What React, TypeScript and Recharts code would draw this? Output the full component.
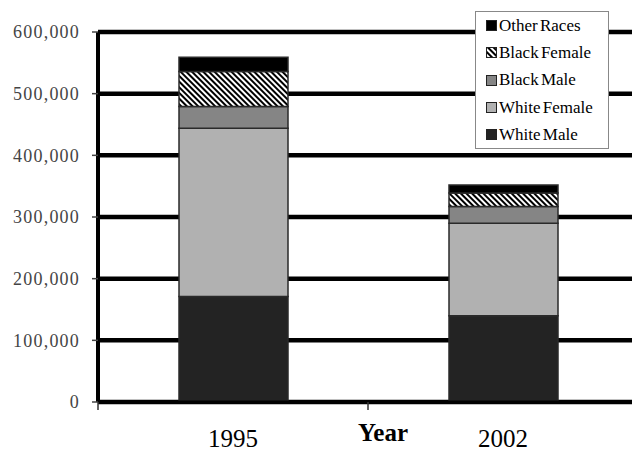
import { BarChart, Bar, XAxis, YAxis, CartesianGrid, Legend, Label } from "recharts";

const years = ["1995", "2002"];
const whiteMale = [171000, 140000];
const whiteFemale = [273000, 150000];
const blackMale = [35000, 27000];
const blackFemale = [57000, 22000];
const otherRaces = [23000, 13000];
const yTicks = [0, 100000, 200000, 300000, 400000, 500000, 600000];

const SERIF = "Liberation Serif";

const series = [
  { key: "whiteMale", name: "White Male", fill: "#232323" },
  { key: "whiteFemale", name: "White Female", fill: "#b1b1b1" },
  { key: "blackMale", name: "Black Male", fill: "#858585" },
  { key: "blackFemale", name: "Black Female", fill: "url(#hatch)" },
  { key: "otherRaces", name: "Other Races", fill: "#000000" },
];

const data = years.map((year, i) => ({
  year,
  whiteMale: whiteMale[i],
  whiteFemale: whiteFemale[i],
  blackMale: blackMale[i],
  blackFemale: blackFemale[i],
  otherRaces: otherRaces[i],
}));

function YearTick(props: any) {
  const { x, y, payload } = props;
  const half = payload?.offset ?? 135;
  return (
    <g>
      <line x1={x - half} x2={x - half} y1={y} y2={y + 8} stroke="#333" strokeWidth={1.5} />
      <text x={x} y={y + 45} textAnchor="middle" fontSize={25} fontFamily={SERIF} fill="#000">
        {payload.value}
      </text>
    </g>
  );
}

function LegendBox() {
  // legend reads top to bottom, opposite of the stack order
  const items = [...series].reverse();
  return (
    <div
      style={{
        width: 122,
        height: 136,
        background: "#fff",
        border: "1px solid #888",
        paddingLeft: 10,
        fontFamily: SERIF,
        fontSize: 17,
        color: "#000",
      }}
    >
      {items.map((s) => (
        <div key={s.key} style={{ display: "flex", alignItems: "center", height: 27.3, whiteSpace: "nowrap" }}>
          <svg width={11} height={11} style={{ marginRight: 2, flex: "none" }}>
            <rect x={0.5} y={0.5} width={10} height={10} fill={s.fill} stroke="#222" strokeWidth={1} />
          </svg>
          <span style={{ fontFamily: SERIF, wordSpacing: -2 }}>{s.name}</span>
        </div>
      ))}
    </div>
  );
}

export default function App() {
  return (
    <div style={{ position: "absolute", left: 0, top: 0, width: 632, height: 453, overflow: "hidden", background: "#fff" }}>
      <BarChart width={700} height={453} data={data} margin={{ top: 32, right: 62, bottom: 0, left: 0 }} barSize={109}>
        <defs>
          <pattern id="hatch" patternUnits="userSpaceOnUse" width={4} height={4} patternTransform="rotate(-45)">
            <rect width={4} height={4} fill="#fff" />
            <rect width={2} height={4} fill="#000" />
          </pattern>
        </defs>
        <CartesianGrid vertical={false} stroke="#000" strokeWidth={4.5} />
        <XAxis
          dataKey="year"
          height={51}
          axisLine={{ stroke: "#000", strokeWidth: 3 }}
          tickLine={false}
          tickSize={0}
          tickMargin={0}
          tick={<YearTick />}
          interval={0}
        >
          <Label
            value="Year"
            position="insideBottom"
            offset={12}
            dx={15}
            style={{ fontFamily: SERIF, fontSize: 25, fontWeight: "bold", fill: "#000" }}
          />
        </XAxis>
        <YAxis
          width={98}
          domain={[0, 600000]}
          ticks={yTicks}
          interval={0}
          axisLine={{ stroke: "#000", strokeWidth: 4 }}
          tickLine={{ stroke: "#444", strokeWidth: 1.5 }}
          tickSize={6}
          tickMargin={12}
          tickFormatter={(v: number) => v.toLocaleString("en-US")}
          tick={{ fill: "#444", fontSize: 18, fontFamily: SERIF, letterSpacing: 1.2 }}
        />
        <Legend
          layout="horizontal"
          verticalAlign="middle"
          align="center"
          content={<LegendBox />}
          wrapperStyle={{ top: 11, left: 475, width: 134, height: 138 }}
        />
        {series.map((s) => (
          <Bar
            key={s.key}
            dataKey={s.key}
            name={s.name}
            stackId="total"
            fill={s.fill}
            stroke="#2a2a2a"
            strokeWidth={1.5}
            isAnimationActive={false}
          />
        ))}
      </BarChart>
    </div>
  );
}
